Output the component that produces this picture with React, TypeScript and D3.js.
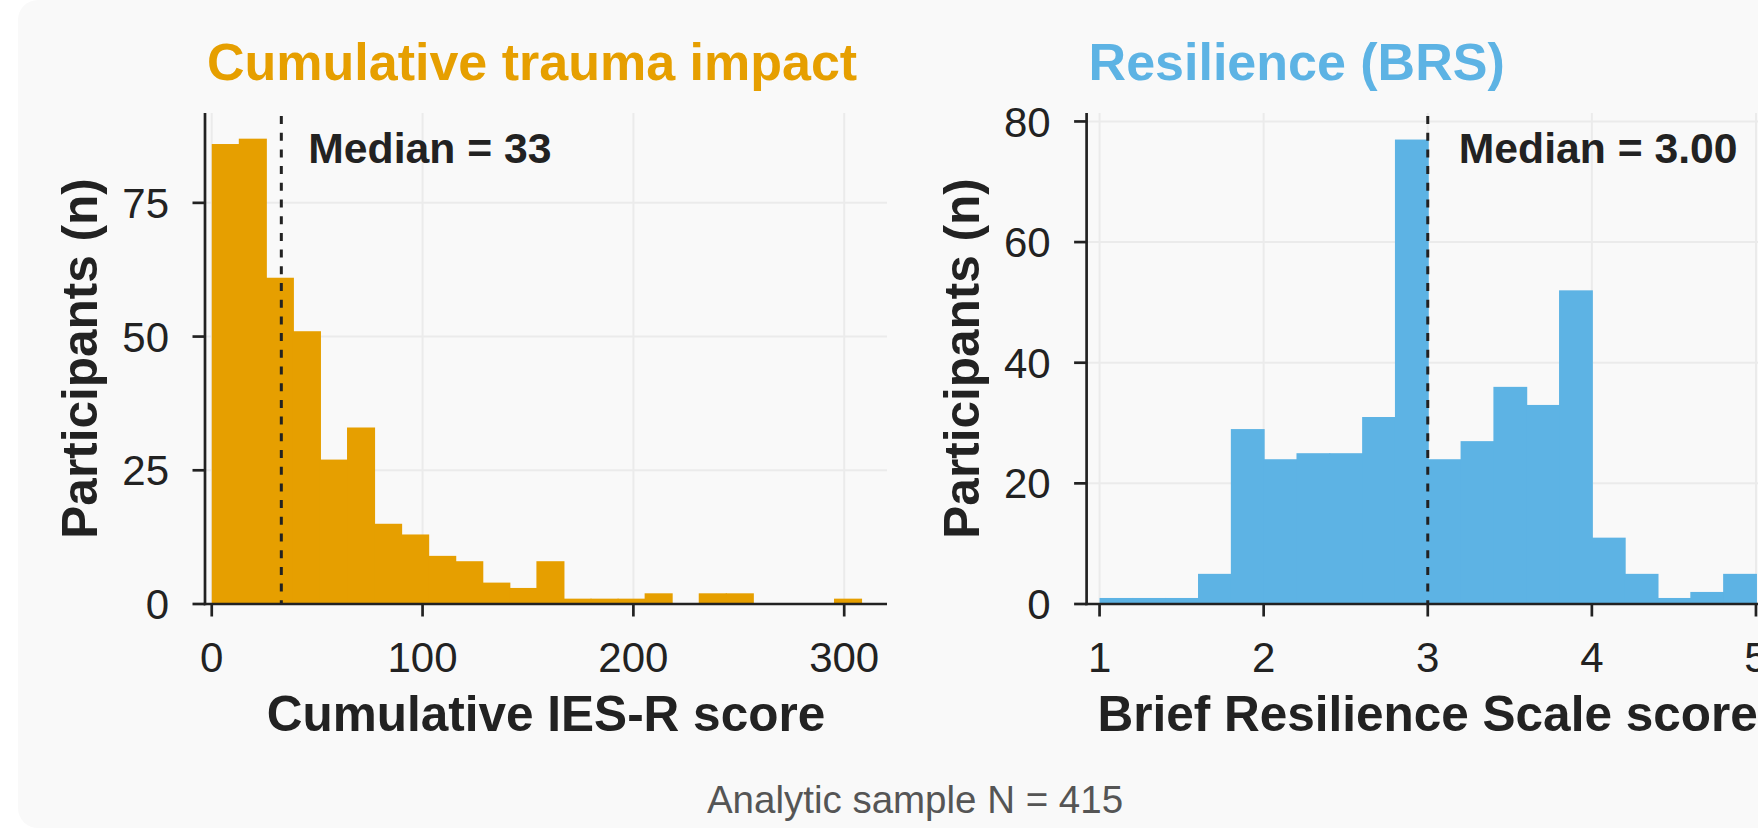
import * as d3 from 'd3'

// IES-R cumulative score histogram (24 bins over 0..308)
const traumaRange: [number, number] = [0, 308]
const traumaCounts = [86, 87, 61, 51, 27, 33, 15, 13, 9, 8, 4, 3, 8, 1, 1, 1, 2, 0, 2, 2, 0, 0, 0, 1]
const traumaXTicks = [0, 100, 200, 300]
const traumaYTicks = [0, 25, 50, 75]
const traumaMedian = 33

// Brief Resilience Scale histogram (20 bins over 1..5)
const brsRange: [number, number] = [1, 5]
const brsCounts = [1, 1, 1, 5, 29, 24, 25, 25, 31, 77, 24, 27, 36, 33, 52, 11, 5, 1, 2, 5]
const brsXTicks = [1, 2, 3, 4, 5]
const brsYTicks = [0, 20, 40, 60, 80]
const brsMedian = 3.0

const W = 1758
const H = 830
const FONT = '"Liberation Sans", Arial, Helvetica, sans-serif'
const INK = '#222222'
const GRID = '#ebebeb'

const PLOT_TOP = 113
const PLOT_BOTTOM = 604
const PLOT_W = 682

interface PanelProps {
  left: number
  title: string
  color: string
  xLabel: string
  range: [number, number]
  counts: number[]
  xDomain: [number, number]
  yMax: number
  xTicks: number[]
  yTicks: number[]
  median: number
  medianText: string
  labelGap: number
}

function Panel(p: PanelProps) {
  const x = d3.scaleLinear().domain(p.xDomain).range([p.left, p.left + PLOT_W])
  const y = d3.scaleLinear().domain([0, p.yMax]).range([PLOT_BOTTOM, PLOT_TOP])
  const step = (p.range[1] - p.range[0]) / p.counts.length
  const bins = p.counts.map((c, i) => ({
    x0: p.range[0] + i * step,
    x1: p.range[0] + (i + 1) * step,
    c
  }))
  const right = p.left + PLOT_W
  const mx = x(p.median)

  return (
    <g>
      {/* grid */}
      {p.yTicks.map(t => (
        <line key={'gy' + t} x1={p.left} x2={right} y1={y(t)} y2={y(t)} stroke={GRID} strokeWidth={2} />
      ))}
      {p.xTicks.map(t => (
        <line key={'gx' + t} x1={x(t)} x2={x(t)} y1={PLOT_TOP} y2={PLOT_BOTTOM} stroke={GRID} strokeWidth={2} />
      ))}

      {/* bars */}
      {bins.filter(b => b.c > 0).map((b, i) => (
        <rect
          key={i}
          x={x(b.x0)}
          y={y(b.c)}
          width={x(b.x1) - x(b.x0) + 1}
          height={PLOT_BOTTOM - y(b.c)}
          fill={p.color}
        />
      ))}

      {/* median */}
      <line x1={mx} x2={mx} y1={PLOT_TOP + 3} y2={PLOT_BOTTOM} stroke={INK} strokeWidth={3} strokeDasharray="8 8.7" />
      <text x={mx + p.labelGap} y={162.7} fontFamily={FONT} fontSize={42.7} fontWeight="bold" fill={INK}>
        {p.medianText}
      </text>

      {/* axes */}
      <line x1={p.left} x2={p.left} y1={PLOT_TOP} y2={PLOT_BOTTOM + 1.3} stroke={INK} strokeWidth={2.7} />
      <line x1={p.left - 1.3} x2={right} y1={PLOT_BOTTOM} y2={PLOT_BOTTOM} stroke={INK} strokeWidth={2.7} />
      {p.yTicks.map(t => (
        <g key={'ty' + t}>
          <line x1={p.left - 12.5} x2={p.left} y1={y(t)} y2={y(t)} stroke={INK} strokeWidth={2.7} />
          <text x={p.left - 36} y={y(t)} dy="0.36em" textAnchor="end" fontFamily={FONT} fontSize={42} fill={INK}>
            {t}
          </text>
        </g>
      ))}
      {p.xTicks.map(t => (
        <g key={'tx' + t}>
          <line x1={x(t)} x2={x(t)} y1={PLOT_BOTTOM} y2={PLOT_BOTTOM + 12.5} stroke={INK} strokeWidth={2.7} />
          <text x={x(t)} y={671.7} textAnchor="middle" fontFamily={FONT} fontSize={42} fill={INK}>
            {t}
          </text>
        </g>
      ))}

      {/* labels */}
      <text x={p.left + 2} y={80} fontFamily={FONT} fontSize={52} fontWeight="bold" fill={p.color}>
        {p.title}
      </text>
      <text
        x={(p.left + right) / 2}
        y={731}
        textAnchor="middle"
        fontFamily={FONT}
        fontSize={49.5}
        fontWeight="bold"
        fill={INK}
      >
        {p.xLabel}
      </text>
      <text
        transform={`translate(${p.left - 108},${(PLOT_TOP + PLOT_BOTTOM) / 2}) rotate(-90)`}
        textAnchor="middle"
        fontFamily={FONT}
        fontSize={49.5}
        fontWeight="bold"
        fill={INK}
      >
        Participants (n)
      </text>
    </g>
  )
}

export default function App() {
  return (
    <svg
      width={W}
      height={H}
      style={{ position: 'absolute', left: 0, top: 0, background: '#ffffff' }}
    >
      <rect x={18} y={0} width={1800} height={828} rx={20} fill="#f9f9f9" />
      <Panel
        left={205}
        title="Cumulative trauma impact"
        color="#E69F00"
        xLabel="Cumulative IES-R score"
        range={traumaRange}
        counts={traumaCounts}
        xDomain={[-3.2, 320.3]}
        yMax={91.8}
        xTicks={traumaXTicks}
        yTicks={traumaYTicks}
        median={traumaMedian}
        medianText={`Median = ${traumaMedian}`}
        labelGap={27}
      />
      <Panel
        left={1086.6}
        title="Resilience (BRS)"
        color="#5DB3E4"
        xLabel="Brief Resilience Scale score"
        range={brsRange}
        counts={brsCounts}
        xDomain={[0.921, 5.077]}
        yMax={81.4}
        xTicks={brsXTicks}
        yTicks={brsYTicks}
        median={brsMedian}
        medianText={`Median = ${brsMedian.toFixed(2)}`}
        labelGap={31}
      />
      <text x={915} y={813} textAnchor="middle" fontFamily={FONT} fontSize={38.5} fill="#555555">
        Analytic sample N = 415
      </text>
    </svg>
  )
}
